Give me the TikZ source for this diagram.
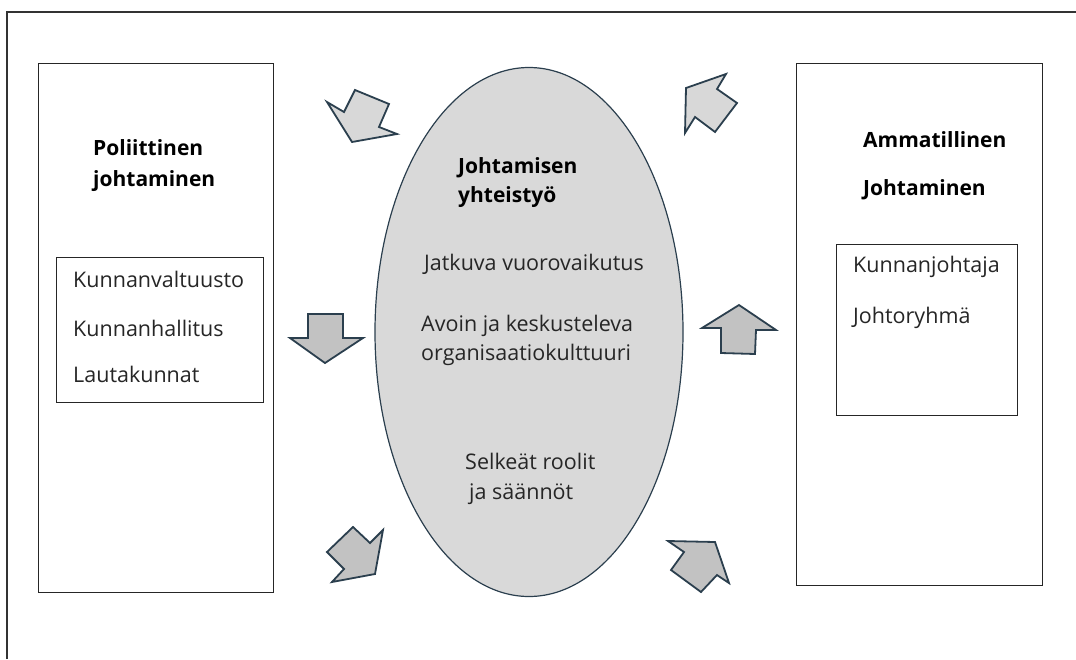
\documentclass[tikz,border=0pt]{standalone}
\usepackage{fontspec}
\setmainfont{Open Sans}
\usetikzlibrary{shapes.geometric}
\definecolor{edge}{HTML}{2B3F4E}
\definecolor{lightfill}{HTML}{D8D8D8}
\definecolor{midfill}{HTML}{C2C2C2}
\definecolor{ovalfill}{HTML}{D9D9D9}
\tikzset{
  box/.style={draw=black!85, line width=1.2pt, fill=white},
  blockarrow/.style={draw=edge, line width=1.8pt, line join=miter},
  heading/.style={anchor=base west, inner sep=0pt, font=\fontsize{21}{25}\selectfont\bfseries},
  item/.style={anchor=base west, inner sep=0pt, font=\fontsize{21.5}{26}\selectfont, text=black!85},
}
\begin{document}
\begin{tikzpicture}[x=1pt, y=-1pt]
\useasboundingbox (0,0) rectangle (1076,659);
% outer frame: top and left edges only
\draw[line width=1.6pt, black!80] (7,659) |- (1076,12);

% side panels and their member lists
\node[box, minimum width=235pt, minimum height=529pt, inner sep=0pt, anchor=north west] (polbox) at (38,63) {};
\node[box, minimum width=207pt, minimum height=145pt, inner sep=0pt, anchor=north west] (pollist) at (56,257) {};
\node[box, minimum width=246pt, minimum height=522pt, inner sep=0pt, anchor=north west] (ammbox) at (796,63) {};
\node[box, minimum width=181pt, minimum height=171pt, inner sep=0pt, anchor=north west] (ammlist) at (836,244) {};

% central oval
\node[draw=edge, line width=1.2pt, fill=ovalfill, ellipse, minimum width=308pt, minimum height=529pt, inner sep=0pt] (oval) at (529,332) {};

% block arrows around the oval
\filldraw[blockarrow, fill=lightfill] (327,102) -- (344,112) -- (355,90) -- (389,104) -- (379,127) -- (397,134) -- (352,142) -- cycle;
\filldraw[blockarrow, fill=lightfill] (686,88) -- (726,74) -- (717,89) -- (737,103) -- (715,132) -- (695,117) -- (685,133) -- cycle;
\filldraw[blockarrow, fill=midfill] (308,314) -- (343,314) -- (343,338) -- (363,338) -- (325,363) -- (290,338) -- (308,338) -- cycle;
\filldraw[blockarrow, fill=midfill] (739,305) -- (776,330) -- (756,330) -- (755,354) -- (721,353) -- (721,328) -- (702,328) -- cycle;
\filldraw[blockarrow, fill=midfill] (353,527) -- (370,543) -- (383,530) -- (375,574) -- (332,582) -- (344,569) -- (327,552) -- cycle;
\filldraw[blockarrow, fill=midfill] (668,541) -- (715,542) -- (729,583) -- (717,575) -- (701,592) -- (671,570) -- (684,552) -- cycle;

% left panel texts
\node[heading] (pol1) at (93,155) {Poliittinen};
\node[heading] (pol2) at (93,186) {johtaminen};
\node[item] (kv) at (73,287) {Kunnanvaltuusto};
\node[item] (kh) at (73,336) {Kunnanhallitus};
\node[item] (lk) at (73,382) {Lautakunnat};

% oval texts
\node[heading] (jy1) at (458,173) {Johtamisen};
\node[heading] (jy2) at (458,202) {yhteistyö};
\node[item] (jv) at (424,270) {Jatkuva vuorovaikutus};
\node[item] (ak1) at (421,331) {Avoin ja keskusteleva};
\node[item] (ak2) at (421,360) {organisaatiokulttuuri};
\node[item] (sr1) at (465,469) {Selkeät roolit};
\node[item] (sr2) at (469,499) {ja säännöt};

% right panel texts
\node[heading] (am1) at (863,147) {Ammatillinen};
\node[heading] (am2) at (863,195) {Johtaminen};
\node[item] (kj) at (853,272) {Kunnanjohtaja};
\node[item] (jr) at (853,323) {Johtoryhmä};
\end{tikzpicture}
\end{document}
